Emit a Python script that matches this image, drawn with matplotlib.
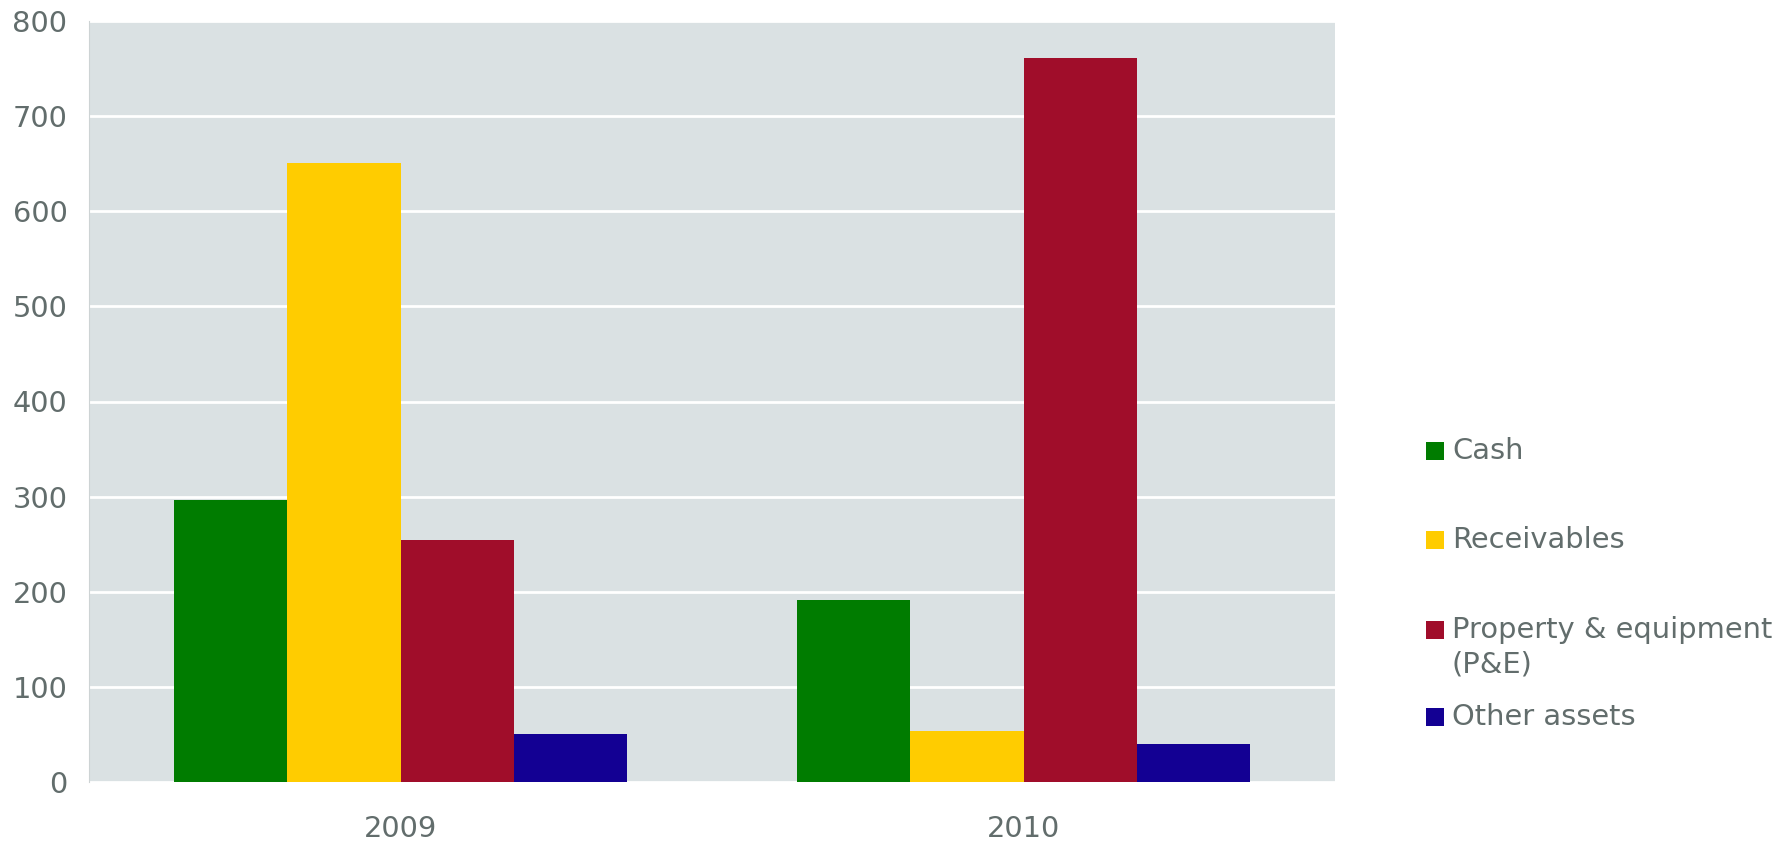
import matplotlib
matplotlib.use("Agg")
import matplotlib.pyplot as plt
from matplotlib.patches import Rectangle
import numpy as np

# Data
years = ["2009", "2010"]
series_names = ["Cash", "Receivables", "Property & equipment\n(P&E)", "Other assets"]
cash = [296, 191]
receivables = [651, 54]
property_equipment = [254, 761]
other_assets = [50, 40]
y_ticks = [0, 100, 200, 300, 400, 500, 600, 700, 800]

series_values = [cash, receivables, property_equipment, other_assets]
colors = ["#007c00", "#ffcc00", "#a00d2a", "#130093"]
text_color = "#626d6c"
plot_bg = "#dae1e3"
fs = 20.8

W, H = 1792, 844
fig = plt.figure(figsize=(W / 100, H / 100), dpi=100)
fig.patch.set_facecolor("white")

ax = fig.add_axes([89 / W, 1 - 782 / H, (1335 - 89) / W, (782 - 21) / H])
ax.set_facecolor(plot_bg)

x = np.arange(len(years))
bar_w = 0.182
n = len(series_values)
for i, (vals, col) in enumerate(zip(series_values, colors)):
    offs = (i - (n - 1) / 2) * bar_w
    ax.bar(x + offs, vals, width=bar_w, color=col, linewidth=0, zorder=3)

ax.set_xlim(-0.5, len(years) - 0.5)
ax.set_ylim(0, 800)
ax.set_yticks(y_ticks)
ax.set_xticks(x)
ax.set_xticklabels(years)
ax.yaxis.grid(True, color="white", linewidth=2.0, zorder=1)
ax.set_axisbelow(True)

for s in ["top", "right", "bottom"]:
    ax.spines[s].set_visible(False)
ax.spines["left"].set_color("#cdd3d4")
ax.spines["left"].set_linewidth(0.8)

ax.tick_params(axis="both", length=0, labelsize=fs, labelcolor=text_color)
ax.tick_params(axis="y", pad=15.5)
ax.tick_params(axis="x", pad=24)

# Legend drawn at fixed pixel positions to the right of the plot
legend_y = [451, 540, 630, 717]
for name, col, yc in zip(series_names, colors, legend_y):
    fig.patches.append(Rectangle((1426 / W, 1 - (yc + 9) / H), 18 / W, 18 / H,
                                 transform=fig.transFigure, facecolor=col,
                                 edgecolor="none"))
    fig.text(1452 / W, 1 - (yc - 14) / H, name, fontsize=fs, color=text_color,
             ha="left", va="top", linespacing=1.3)

fig.savefig("out.png", dpi=100, facecolor="white")
